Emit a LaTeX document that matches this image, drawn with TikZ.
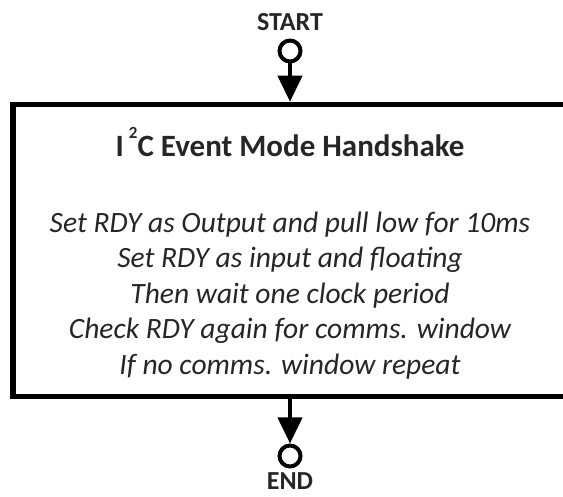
\documentclass[tikz,border=0pt]{standalone}
\usepackage{fontspec}
\setmainfont{Carlito}
\usetikzlibrary{arrows.meta,positioning}
\definecolor{txtgray}{RGB}{38,38,38}

\tikzset{
  term/.style={circle, draw=black, line width=4pt, minimum size=21pt, inner sep=0pt},
  termlabel/.style={font=\fontsize{26}{30}\selectfont\bfseries, text=txtgray, inner sep=0pt, anchor=base},
  flow/.style={line width=4pt, -{Triangle[length=26pt,width=24pt]}},
  stepbox/.style={draw=black, line width=5.5pt, minimum width=554pt, minimum height=292pt, inner sep=0pt},
  boxtitle/.style={font=\fontsize{31}{36}\selectfont\bfseries, text=txtgray, inner sep=0pt, anchor=base},
  boxline/.style={font=\fontsize{29.5}{34}\selectfont\itshape, text=txtgray, inner sep=0pt, anchor=base}
}

\begin{document}
\begin{tikzpicture}[x=1pt, y=-1pt]
    \useasboundingbox (0,0) rectangle (563,497);
    \clip (0,0) rectangle (563,497);
    % Start terminal
    \node[termlabel] (startlbl) at (290,30.5) {START};
    \node[term] (start) at (290,51) {};
    % Handshake box
    \node[stepbox] (hand) at (290,250.5) {};
    \node[boxtitle] (title) at (290,157) {I\,\raisebox{0.6em}{\fontsize{17}{20}\selectfont 2}C Event Mode Handshake};
    \node[boxline] (l1) at (290,233) {Set RDY as Output and pull low for 10ms};
    \node[boxline] (l2) at (290,268) {Set RDY as input and floating};
    \node[boxline] (l3) at (290,303.5) {Then wait one clock period};
    \node[boxline] (l4) at (290,339) {Check RDY again for comms. window};
    \node[boxline] (l5) at (290,374) {If no comms. window repeat};
    % End terminal
    \node[term] (end) at (290,456) {};
    \node[termlabel] (endlbl) at (290,489.5) {END};
    % Connectors
    \draw[flow] (start.south) -- (hand.north);
    \draw[flow] (hand.south) -- (end.north);
\end{tikzpicture}
\end{document}
